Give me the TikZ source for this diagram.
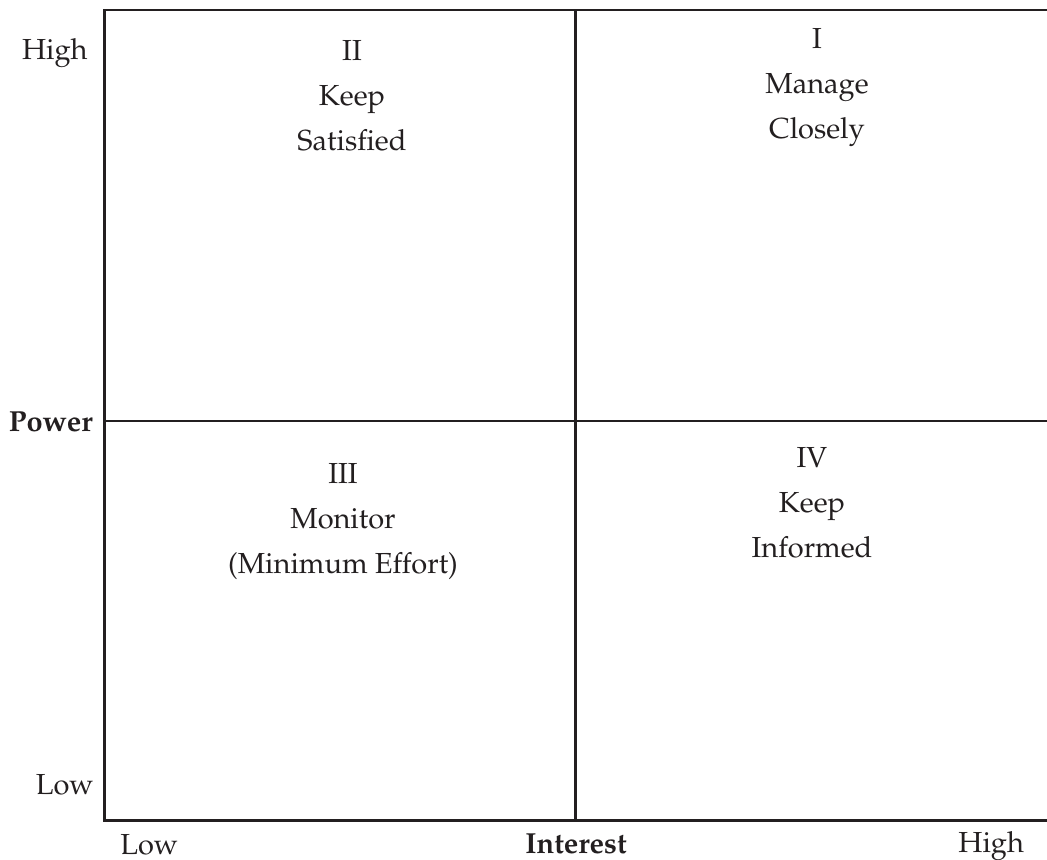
\documentclass[tikz,border=0pt]{standalone}
\usepackage[T1]{fontenc}
\usepackage{mathpazo}
\begin{document}
\begin{tikzpicture}[x=0.5pt,y=-0.5pt,
  grid/.style={line width=1.25pt,draw={rgb,255:red,35;green,31;blue,32}},
  lbl/.style={inner sep=0pt,font=\fontsize{14.5}{22.5}\selectfont,text={rgb,255:red,35;green,31;blue,32}},
  quad/.style={lbl,align=center,anchor=north}]
\useasboundingbox (0,0) rectangle (1047,860);
% frame corners
\coordinate (tl) at (104.5,10);
\coordinate (tr) at (1050,10);
\coordinate (bl) at (104.5,820.5);
\coordinate (br) at (1050,820.5);
\coordinate (mt) at (575.5,10);
\coordinate (mb) at (575.5,820.5);
\coordinate (ml) at (104.5,421);
\coordinate (mr) at (1050,421);
\draw[grid] (tr) -- (tl) -- (bl) -- (br);
\draw[grid] (mt) -- (mb);
\draw[grid] (ml) -- (mr);
% quadrant texts
\node[quad] (q2) at (352,40) {II\\Keep\\Satisfied};
\node[quad] (q1) at (817,28) {I\\Manage\\Closely};
\node[quad] (q3) at (343,463) {III\\Monitor\\(Minimum Effort)};
\node[quad] (q4) at (812,447) {IV\\Keep\\Informed};
% axis labels
\node[lbl,anchor=base east] (yhigh) at (88,60) {High};
\node[lbl,anchor=base east,font=\fontsize{14.5}{22.5}\selectfont\bfseries] (power) at (93,431) {Power};
\node[lbl,anchor=base east] (ylow) at (94,794) {Low};
\node[lbl,anchor=base west] (xlow) at (120,854) {Low};
\node[lbl,anchor=base,font=\fontsize{14.5}{22.5}\selectfont\bfseries] (interest) at (576,853) {Interest};
\node[lbl,anchor=base west] (xhigh) at (958,852) {High};
\end{tikzpicture}
\end{document}
